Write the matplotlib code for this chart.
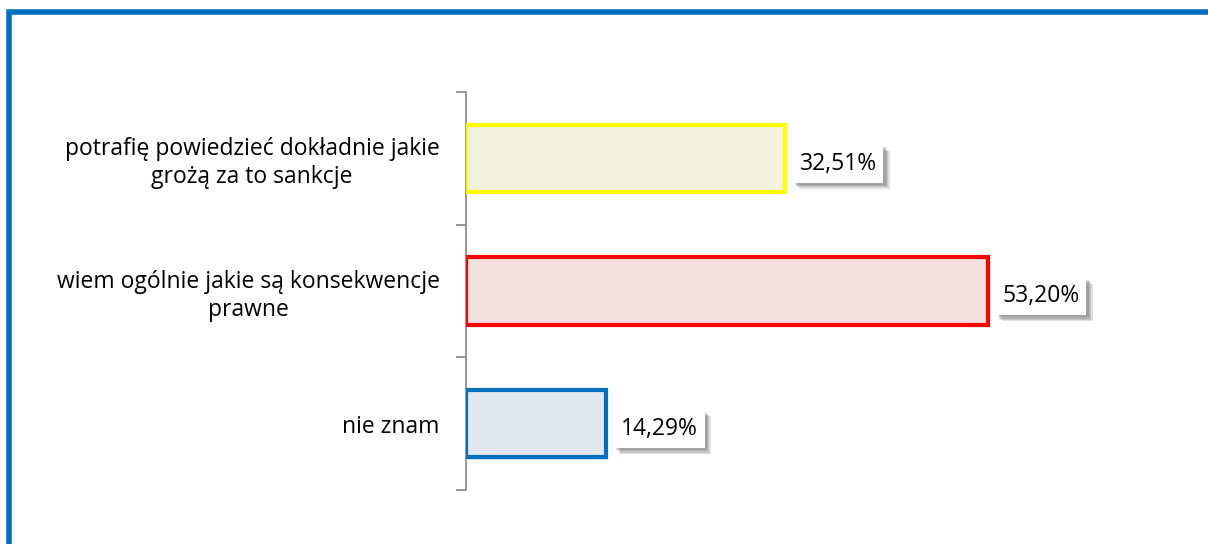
import matplotlib
matplotlib.use("Agg")
from matplotlib import pyplot as plt
from matplotlib import patheffects
from matplotlib.patches import Rectangle

categories = ["potrafię powiedzieć dokładnie jakie\ngrożą za to sankcje",
              "wiem ogólnie jakie są konsekwencje\nprawne",
              "nie znam"]
values = [32.51, 53.20, 14.29]  # %
value_labels = ["32,51%", "53,20%", "14,29%"]

edge_colors = ["#FFFF00", "#FF0000", "#0070C0"]
fill_colors = ["#F2F2DC", "#F2E0E0", "#E1E8F0"]

plt.rcParams["font.family"] = ["Open Sans", "DejaVu Sans"]

fig = plt.figure(figsize=(12.08, 5.44), dpi=100)
fig.patch.set_facecolor("white")

# frame around the chart (only top and left edges fall inside the canvas)
frame = Rectangle((8.5 / 1208, -0.1), 1.2, 1 - 12.5 / 544 + 0.1,
                  transform=fig.transFigure, fill=False,
                  edgecolor="#0070C0", linewidth=4.0, zorder=0)
fig.patches.append(frame)

ax = fig.add_axes([466 / 1208, 1 - 490 / 544, (1172 - 466) / 1208, 398 / 544])

# soft drop shadow built from a few offset layers
soft_shadow = [patheffects.SimplePatchShadow(offset=(d, -d), shadow_rgbFace="#606060", alpha=0.2)
               for d in (1.5, 2.5, 3.5, 4.5)] + [patheffects.Normal()]

pos = list(range(len(categories)))
bars = ax.barh(pos, values, height=0.51, color=fill_colors,
               edgecolor=edge_colors, linewidth=3.0, zorder=3)
for b in bars:
    b.set_path_effects([patheffects.SimplePatchShadow(offset=(1.5, -1.5), shadow_rgbFace="#999999", alpha=0.25),
                        patheffects.Normal()])

for i in pos:
    t = ax.text(values[i] + 1.5, i + 0.04, value_labels[i], va="center", ha="left",
                fontsize=16.5, color="black", zorder=4,
                bbox=dict(boxstyle="square,pad=0.3", facecolor="white", edgecolor="none"))
    t.get_bbox_patch().set_path_effects(soft_shadow)

ax.set_xlim(0, 72)
ax.set_ylim(2.5, -0.5)

ax.set_yticks(pos)
ax.set_yticklabels(categories, fontsize=16.5, multialignment="center", linespacing=1.2)
ax.tick_params(axis="y", which="major", length=0, pad=19)
ax.set_yticks([-0.5, 0.5, 1.5, 2.5], minor=True)
ax.tick_params(axis="y", which="minor", length=7, color="#868686", width=1.2)

ax.set_xticks([])
for side in ["top", "right", "bottom"]:
    ax.spines[side].set_visible(False)
ax.spines["left"].set_color("#868686")
ax.spines["left"].set_linewidth(1.2)
ax.set_facecolor("none")

fig.savefig("out.png", dpi=100)
